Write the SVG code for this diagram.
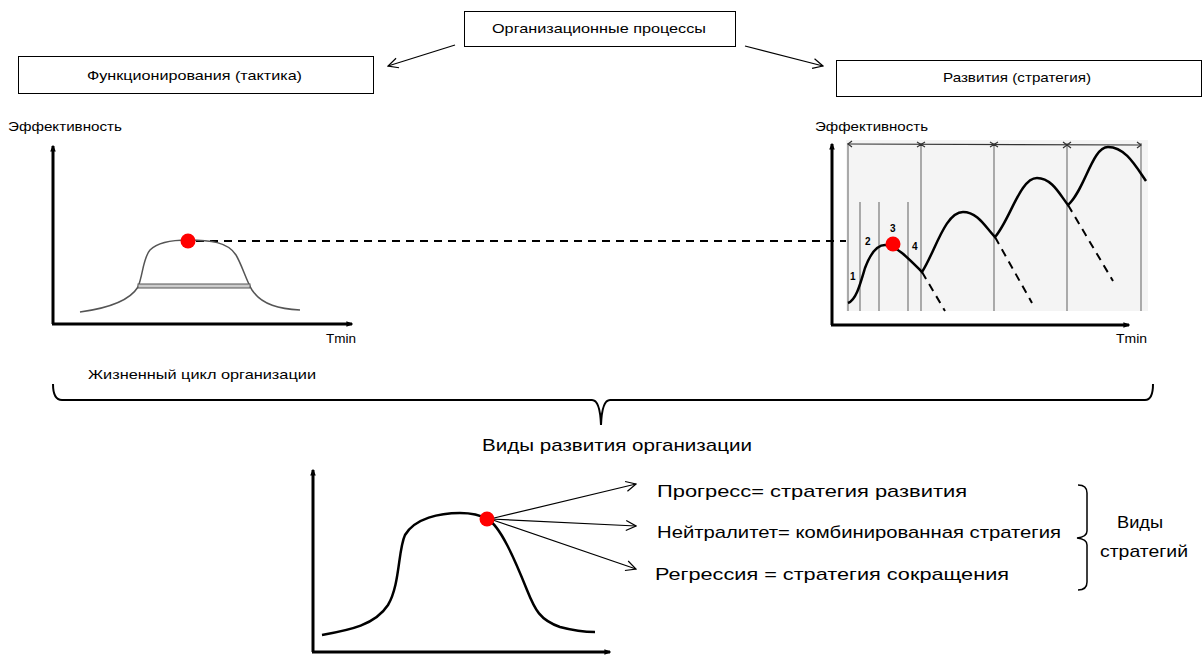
<svg xmlns="http://www.w3.org/2000/svg" width="1203" height="655" viewBox="0 0 1203 655">
<style>
.t{font-family:"Liberation Sans",Arial,sans-serif;fill:#000}
.s13{font-size:13px}
.s17{font-size:17px}
.box{fill:#fff;stroke:#000;stroke-width:1}
.ax{stroke:#000;stroke-width:3;fill:none}
.crv{fill:none;stroke:#000;stroke-width:2.5}
.gcrv{fill:none;stroke:#555;stroke-width:1.5}
.vl{stroke:#777;stroke-width:1.2}
.dash{stroke:#000;stroke-width:2;stroke-dasharray:8,6;fill:none}
.dot{fill:#ff0000}
.arr{stroke:#000;stroke-width:1.2;fill:none}
</style>
<defs>
<marker id="open" viewBox="0 0 12 12" refX="11" refY="6" markerWidth="12" markerHeight="12" markerUnits="userSpaceOnUse" orient="auto">
<path d="M1,1 L11,6 L1,11" fill="none" stroke="#000" stroke-width="1.2"/>
</marker>
<marker id="axa" viewBox="0 0 10 10" refX="8" refY="5" markerWidth="7" markerHeight="7" markerUnits="userSpaceOnUse" orient="auto">
<path d="M0,1 L10,5 L0,9 Z" fill="#000"/>
</marker>
</defs>
<rect width="1203" height="655" fill="#fff"/>

<g id="node-org">
<rect class="box" x="464.5" y="11.5" width="271" height="35"/>
<text class="t s13" x="492" y="33" textLength="214" lengthAdjust="spacingAndGlyphs">Организационные процессы</text>
</g>
<g id="node-func">
<rect class="box" x="18.5" y="56.5" width="355" height="37"/>
<text class="t s13" x="87" y="80" textLength="215" lengthAdjust="spacingAndGlyphs">Функционирования (тактика)</text>
</g>
<g id="node-dev">
<rect class="box" x="836.5" y="60.5" width="365" height="36"/>
<text class="t s13" x="943" y="82" textLength="148" lengthAdjust="spacingAndGlyphs">Развития (стратегия)</text>
</g>

<g id="connectors">
<line class="arr" x1="455" y1="45" x2="388" y2="66" marker-end="url(#open)"/>
<line class="arr" x1="745" y1="46" x2="823" y2="66" marker-end="url(#open)"/>
<line class="arr" x1="490" y1="519" x2="636" y2="484" marker-end="url(#open)"/>
<line class="arr" x1="490" y1="519" x2="636" y2="526" marker-end="url(#open)"/>
<line class="arr" x1="490" y1="519" x2="636" y2="569" marker-end="url(#open)"/>
<line class="dash" x1="196" y1="241" x2="886" y2="241"/>
</g>

<g id="chart-left">
<text class="t s13" x="8" y="131" textLength="114" lengthAdjust="spacingAndGlyphs">Эффективность</text>
<line class="ax" x1="53" y1="324" x2="53" y2="146" marker-end="url(#axa)"/>
<line class="ax" x1="52" y1="324" x2="352" y2="324" marker-end="url(#axa)"/>
<text class="t s13" x="326" y="343" textLength="30" lengthAdjust="spacingAndGlyphs">Tmin</text>
<path class="gcrv" d="M80,312 C110,308 130,300 138,287 C143,275 143,258 150,250 C158,242 172,240 188,240 C210,240 228,242 236,255 C242,265 246,280 252,290 C262,305 280,309 300,310"/>
<rect x="138" y="284" width="112" height="4" fill="#ccc" stroke="#555" stroke-width="1"/>
<circle class="dot" cx="188" cy="241" r="7.5"/>
</g>

<g id="chart-right">
<text class="t s13" x="815" y="131" textLength="113" lengthAdjust="spacingAndGlyphs">Эффективность</text>
<rect x="846" y="140" width="302" height="171" fill="#f4f4f4"/>
<line class="vl" x1="848" y1="143" x2="848" y2="311"/>
<line class="vl" x1="921" y1="143" x2="921" y2="311"/>
<line class="vl" x1="994" y1="143" x2="994" y2="311"/>
<line class="vl" x1="1067" y1="143" x2="1067" y2="311"/>
<line class="vl" x1="1141" y1="143" x2="1141" y2="311"/>
<line class="vl" x1="860" y1="202" x2="860" y2="311"/>
<line class="vl" x1="879" y1="202" x2="879" y2="311"/>
<line class="vl" x1="908" y1="202" x2="908" y2="311"/>
<line x1="848" y1="144" x2="1141" y2="145" stroke="#333" stroke-width="1.2"/>
<path d="M852,141 L848,144 L852,147 M917,142 L921,144.5 L917,147 M925,142 L921,144.5 L925,147 M990,142 L994,144.5 L990,147 M998,142 L994,144.5 L998,147 M1063,142 L1067,145 L1063,148 M1071,142 L1067,145 L1071,148 M1137,142 L1141,145 L1137,148" fill="none" stroke="#333" stroke-width="1.2"/>
<path class="crv" d="M848,303 C856,300 860,285 865,268 C871,252 877,245 885,245 C896,245 910,260 922,272 C935,252 945,212 963,212 C978,212 986,228 995,237 C1010,220 1020,178 1037,178 C1052,178 1060,195 1068,205 C1085,190 1092,147 1108,147 C1125,147 1135,165 1146,181"/>
<path class="dash" d="M922,272 L945,311 M995,237 L1032,303 M1068,205 L1113,281" stroke-width="2.2"/>
<text class="t" x="850" y="280" font-size="10" font-weight="bold">1</text>
<text class="t" x="865" y="245" font-size="10" font-weight="bold">2</text>
<text class="t" x="890" y="232" font-size="10" font-weight="bold">3</text>
<text class="t" x="912" y="250" font-size="10" font-weight="bold">4</text>
<line class="ax" x1="832" y1="325" x2="832" y2="144" marker-end="url(#axa)"/>
<line class="ax" x1="831" y1="325" x2="1129" y2="325" marker-end="url(#axa)"/>
<text class="t s13" x="1116" y="343" textLength="31" lengthAdjust="spacingAndGlyphs">Tmin</text>
<circle class="dot" cx="893" cy="244" r="7.5"/>
</g>

<g id="lifecycle">
<text class="t s13" x="88" y="379" textLength="228" lengthAdjust="spacingAndGlyphs">Жизненный цикл организации</text>
<path d="M53,384 Q53,400 62,400 L592,400 Q600,400 601,425 Q602,400 610,400 L1145,400 Q1153,400 1153,384" fill="none" stroke="#000" stroke-width="2"/>
<text class="t s17" x="482" y="451" textLength="270" lengthAdjust="spacingAndGlyphs">Виды развития организации</text>
</g>

<g id="chart-bottom">
<line class="ax" x1="313" y1="652" x2="313" y2="470" marker-end="url(#axa)"/>
<line class="ax" x1="312" y1="652" x2="610" y2="652" marker-end="url(#axa)"/>
<path class="crv" d="M322,635 C350,630 375,625 388,605 C400,585 398,550 405,535 C415,518 440,513 460,513 C475,513 482,516 487,519 C500,525 515,560 527,590 C535,610 540,620 560,627 C575,631 585,632 595,632"/>
<circle class="dot" cx="487" cy="519" r="7.5"/>
</g>

<g id="strategies">
<text class="t s17" x="657" y="497" textLength="310" lengthAdjust="spacingAndGlyphs">Прогресс= стратегия развития</text>
<text class="t s17" x="657" y="538" textLength="404" lengthAdjust="spacingAndGlyphs">Нейтралитет= комбинированная стратегия</text>
<text class="t s17" x="655" y="580" textLength="354" lengthAdjust="spacingAndGlyphs">Регрессия = стратегия сокращения</text>
<path d="M1078,485 Q1087,485 1087,493 L1087,531 Q1087,537 1077,538 Q1087,539 1087,545 L1087,582 Q1087,590 1078,590" fill="none" stroke="#000" stroke-width="1.5"/>
<text class="t s17" x="1140" y="528" text-anchor="middle" textLength="46" lengthAdjust="spacingAndGlyphs">Виды</text>
<text class="t s17" x="1144" y="557" text-anchor="middle" textLength="88" lengthAdjust="spacingAndGlyphs">стратегий</text>
</g>
</svg>
